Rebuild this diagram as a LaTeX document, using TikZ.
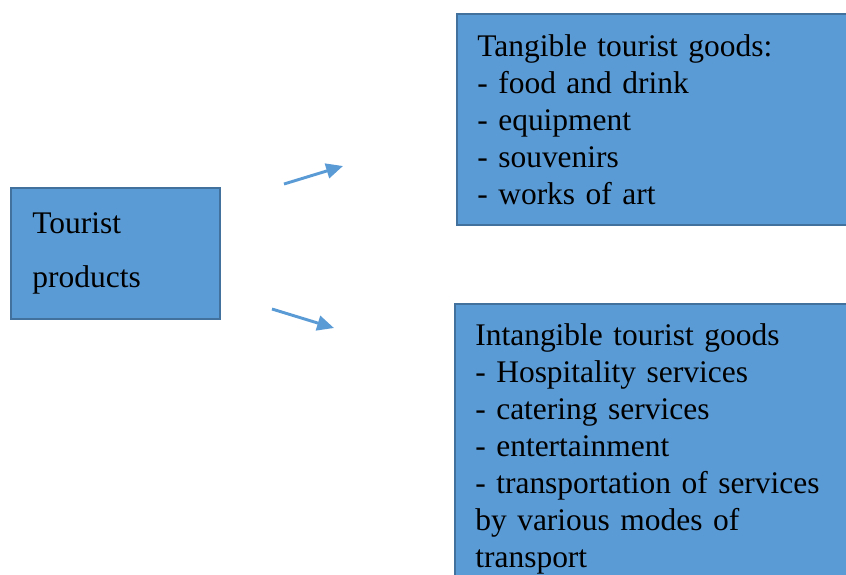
\documentclass[tikz,border=0pt]{standalone}
\usepackage{fontspec}
\setmainfont{Liberation Serif}
\usepackage{tikz}
\usetikzlibrary{arrows.meta}
\definecolor{boxblue}{HTML}{5B9BD5}
\definecolor{boxedge}{HTML}{41719C}
\tikzstyle{product}=[rectangle,draw=boxedge,fill=boxblue,line width=0.8pt,anchor=north west,align=left,inner xsep=8pt,inner ysep=0pt,font={\fontsize{11.8pt}{20.25pt}\selectfont}]
\tikzstyle{goods}=[rectangle,draw=boxedge,fill=boxblue,line width=0.8pt,anchor=north west,align=left,inner xsep=7.6pt,inner ysep=0pt,text width=141pt,font={\fontsize{11.8pt}{13.875pt}\selectfont}]
\tikzstyle{link}=[draw=boxblue,line width=1.1pt,-{Triangle[length=6.3pt,width=5.6pt]}]

\begin{document}
\begin{tikzpicture}[x=0.375pt,y=-0.375pt]
    \clip (0,0) rectangle (846,574);
    \node[product,text width=62.375pt,minimum height=49.125pt] at (10,187) (tourist) {Tourist\\products};
    \node[goods,minimum height=79.125pt] at (456,13) (tangible) {Tangible tourist goods:\\- food and drink\\- equipment\\- souvenirs\\- works of art};
    \node[goods,minimum height=108.75pt] at (454,303) (intangible) {Intangible tourist goods\\- Hospitality services\\- catering services\\- entertainment\\- transportation of services\\by various modes of\\transport};
    \coordinate (uptail) at (284,184);
    \coordinate (uptip) at (343,166);
    \coordinate (downtail) at (272,309);
    \coordinate (downtip) at (334,328);
    \draw[link] (uptail) to (uptip);
    \draw[link] (downtail) to (downtip);
  \end{tikzpicture}
\end{document}
